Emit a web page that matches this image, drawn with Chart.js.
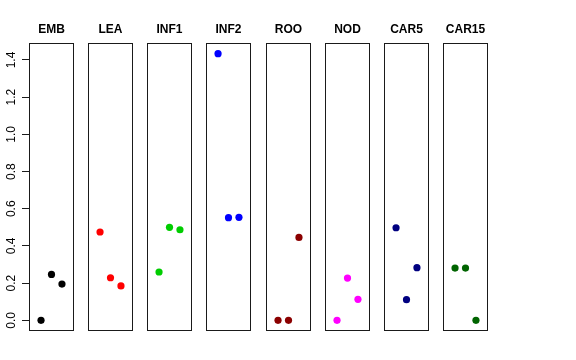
<!DOCTYPE html>
<html>
<head>
<meta charset="utf-8">
<script src="https://cdn.jsdelivr.net/npm/chart.js@4/dist/chart.umd.min.js"></script>
<style>
  html, body { margin: 0; padding: 0; background: #ffffff; }
  #wrap { position: relative; width: 576px; height: 360px; overflow: hidden; background: #ffffff; }
  #wrap canvas { position: absolute; top: 0; }
</style>
</head>
<body>
<div id="wrap"></div>
<script>
// ---- data ----
const categories = ['EMB', 'LEA', 'INF1', 'INF2', 'ROO', 'NOD', 'CAR5', 'CAR15'];
const positions = [1, 2, 3];
const EMB   = [0.000, 0.247, 0.195];
const LEA   = [0.475, 0.229, 0.185];
const INF1  = [0.260, 0.500, 0.487];
const INF2  = [1.434, 0.552, 0.554];
const ROO   = [0.000, 0.000, 0.446];
const NOD   = [0.000, 0.227, 0.113];
const CAR5  = [0.498, 0.111, 0.283];
const CAR15 = [0.281, 0.281, 0.000];
const seriesValues = [EMB, LEA, INF1, INF2, ROO, NOD, CAR5, CAR15];
const yTickValues = [0.0, 0.2, 0.4, 0.6, 0.8, 1.0, 1.2, 1.4];

// ---- styling / layout ----
const colors = ['#000000', '#FF0000', '#00CD00', '#0000FF', '#8B0000', '#FF00FF', '#000080', '#006400'];
const FONT = '"Liberation Sans", Arial, Helvetica, sans-serif';
const firstBoxLeft = 29;
const boxStep = 59.15;
const boxWidth = 45;
const sidePad = 10;
const chartTop = 43;
const bottomPad = 29;

// y range as R computes it (data range extended by 4% on each side)
const allVals = seriesValues.flat();
const dMin = Math.min(...allVals), dMax = Math.max(...allVals);
const ext = (dMax - dMin) * 0.04;
const yMin = dMin - ext, yMax = dMax + ext;

const framePlugin = {
  id: 'frame',
  afterDatasetsDraw(chart) {
    const a = chart.chartArea;
    const ctx = chart.ctx;
    ctx.save();
    ctx.strokeStyle = '#1a1a1a';
    ctx.lineWidth = 1;
    ctx.strokeRect(Math.round(a.left) + 0.5, Math.round(a.top) + 0.5,
                   Math.round(a.right - a.left) - 1, Math.round(a.bottom - a.top) - 1);
    ctx.restore();
  }
};

const wrap = document.getElementById('wrap');

categories.forEach((cat, i) => {
  const boxLeft = Math.round(firstBoxLeft + i * boxStep);
  const isFirst = i === 0;
  const canvasLeft = isFirst ? 0 : boxLeft - sidePad;
  const canvasWidth = isFirst ? boxLeft + boxWidth + sidePad : boxWidth + 2 * sidePad;
  const cv = document.createElement('canvas');
  cv.style.left = canvasLeft + 'px';
  cv.style.width = canvasWidth + 'px';
  cv.style.height = '360px';
  cv.width = canvasWidth;
  cv.height = 360;
  wrap.appendChild(cv);

  const yScale = {
    type: 'linear',
    min: yMin,
    max: yMax,
    display: isFirst,
    position: 'left',
    afterBuildTicks(scale) {
      scale.ticks = yTickValues.map(v => ({ value: v }));
    },
    border: { display: false },
    grid: {
      drawOnChartArea: false,
      drawTicks: true,
      tickLength: 7,
      tickColor: '#1a1a1a',
      tickWidth: 1
    },
    ticks: {
      minRotation: 90,
      maxRotation: 90,
      crossAlign: 'center',
      padding: 2,
      color: '#000000',
      font: { family: FONT, size: 12 },
      callback: (v) => Number(v).toFixed(1)
    }
  };
  if (isFirst) {
    yScale.afterFit = (scale) => { scale.width = firstBoxLeft; };
  }

  new Chart(cv, {
    type: 'scatter',
    data: {
      datasets: [{
        label: cat,
        data: positions.map((p, k) => ({ x: p, y: seriesValues[i][k] })),
        backgroundColor: colors[i],
        borderColor: colors[i],
        borderWidth: 0,
        pointRadius: 3.6,
        pointHoverRadius: 3.6
      }]
    },
    options: {
      responsive: false,
      animation: false,
      events: [],
      layout: {
        padding: { left: isFirst ? 0 : sidePad, right: sidePad, top: 0, bottom: bottomPad }
      },
      plugins: {
        legend: { display: false },
        tooltip: { enabled: false },
        title: {
          display: true,
          text: cat,
          fullSize: false,
          color: '#000000',
          font: { family: FONT, size: 12, weight: 'bold', lineHeight: 1.2 },
          padding: { top: 22, bottom: chartTop - 22 - 14.4 }
        }
      },
      scales: {
        x: {
          type: 'linear',
          min: -0.15,
          max: 4.15,
          display: false
        },
        y: yScale
      }
    },
    plugins: [framePlugin]
  });
});
</script>
</body>
</html>
